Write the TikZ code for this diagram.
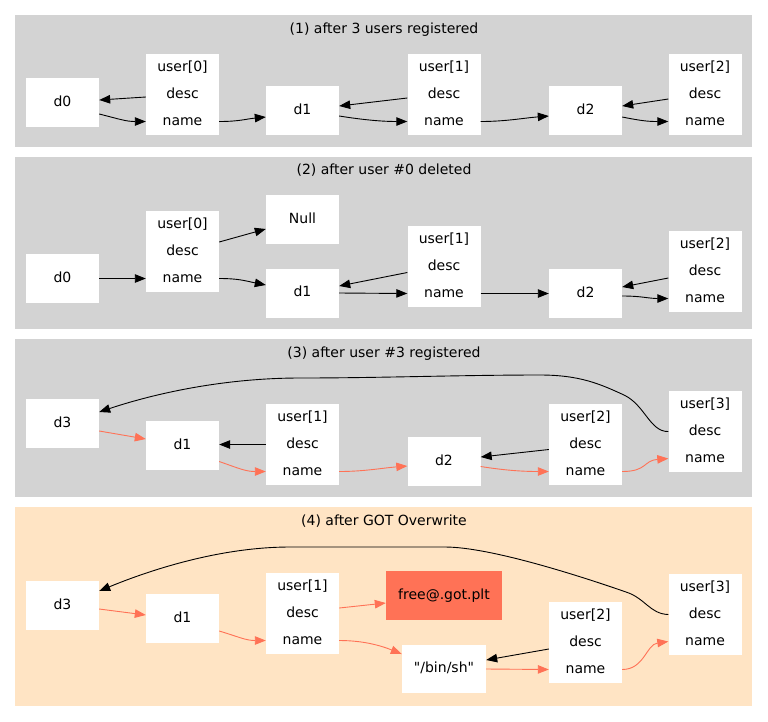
\documentclass[tikz,border=0pt]{standalone}
\usepackage{fontspec}
\setmainfont{DejaVu Sans}[Ligatures=TeXOff]
\usetikzlibrary{arrows.meta}
\definecolor{panelgray}{HTML}{D3D3D3}
\definecolor{bisquec}{HTML}{FFE4C4}
\definecolor{coralc}{HTML}{FF7256}
\newcommand\myfs{\fontsize{14}{16}\selectfont}
\newcommand\myrec[4]{%
  \node[fld] (#1t) at (#2,#3+13.5) {#4};
  \node[fld] (#1d) at (#2,#3+40.5) {desc};
  \node[fld] (#1n) at (#2,#3+67.5) {name};}
\begin{document}
\begin{tikzpicture}[x=1pt,y=-1pt,
  box/.style={fill=white, minimum width=73pt, minimum height=49pt, inner sep=0pt, font=\myfs, text height=10.5pt, text depth=3pt},
  fld/.style={fill=white, minimum width=73pt, minimum height=27pt, inner sep=0pt, font=\myfs, text height=10.5pt, text depth=3pt},
  ttl/.style={inner sep=0pt, font=\myfs, text height=10.5pt, text depth=3pt},
  e/.style={line width=0.9pt, -{Triangle[length=11pt,width=8.5pt]}},
  ce/.style={e, coralc}]
\fill[white] (0,0) rectangle (768,721);
\useasboundingbox (0,0) rectangle (768,721);
% panels
\fill[panelgray] (15,15) rectangle (752,147);
\fill[panelgray] (15,157) rectangle (752,329);
\fill[panelgray] (15,339) rectangle (752,497);
\fill[bisquec] (15,507) rectangle (752,706);
\node[ttl] (t1) at (384,30) {(1) after 3 users registered};
\node[ttl] (t2) at (384,171) {(2) after user \#0 deleted};
\node[ttl] (t3) at (384,354) {(3) after user \#3 registered};
\node[ttl] (t4) at (384,522) {(4) after GOT Overwrite};
% ---- panel 1
\node[box] (p1d0) at (62.5,102.5) {d0};
\node[box] (p1d1) at (302.5,110.5) {d1};
\node[box] (p1d2) at (585.5,110.5) {d2};
\myrec{p1u0}{182.5}{54}{user[0]}
\myrec{p1u1}{444}{54}{user[1]}
\myrec{p1u2}{705}{54}{user[2]}
\draw[e] ([yshift=-2.5pt]p1u0d.west) -- ([yshift=2.5pt]p1d0.east);
\draw[e] ([yshift=-11.5pt]p1d0.east) .. controls +(20,5) and +(-20,0) .. (p1u0n.west);
\draw[e] (p1u0n.east) .. controls +(20,0) and +(-20,2) .. ([yshift=-6.5pt]p1d1.west);
\draw[e] ([yshift=-3.5pt]p1u1d.west) -- ([yshift=4.5pt]p1d1.east);
\draw[e] ([yshift=-5.5pt]p1d1.east) .. controls +(25,4) and +(-25,0) .. (p1u1n.west);
\draw[e] (p1u1n.east) .. controls +(25,0) and +(-25,2) .. ([yshift=-5.5pt]p1d2.west);
\draw[e] ([yshift=-4.5pt]p1u2d.west) -- ([yshift=4.5pt]p1d2.east);
\draw[e] ([yshift=-6.5pt]p1d2.east) .. controls +(20,4) and +(-20,0) .. (p1u2n.west);
% ---- panel 2
\node[box] (p2d0) at (62.5,278.5) {d0};
\node[box] (p2null) at (302.5,219.5) {Null};
\node[box] (p2d1) at (302.5,293) {d1};
\node[box] (p2d2) at (585.5,293.5) {d2};
\myrec{p2u0}{182.5}{211}{user[0]}
\myrec{p2u1}{444}{226}{user[1]}
\myrec{p2u2}{705}{231}{user[2]}
\draw[e] (p2d0.east) -- (p2u0n.west);
\draw[e] ([yshift=9.5pt]p2u0d.east) -- ([yshift=-9.5pt]p2null.west);
\draw[e] (p2u0n.east) .. controls +(20,0) and +(-20,-4) .. ([yshift=8pt]p2d1.west);
\draw[e] ([yshift=-6pt]p2u1d.west) -- ([yshift=7pt]p2d1.east);
\draw[e] (p2d1.east) -- (p2u1n.west);
\draw[e] (p2u1n.east) -- (p2d2.west);
\draw[e] ([yshift=-6.5pt]p2u2d.west) -- ([yshift=6.5pt]p2d2.east);
\draw[e] ([yshift=-2.5pt]p2d2.east) .. controls +(20,0) and +(-20,0) .. (p2u2n.west);
% ---- panel 3
\node[box] (p3d3) at (62.5,423.5) {d3};
\node[box] (p3d1) at (182.5,445.5) {d1};
\node[box] (p3d2) at (444,461.5) {d2};
\myrec{p3u1}{302.5}{404}{user[1]}
\myrec{p3u2}{585.5}{404}{user[2]}
\myrec{p3u3}{705}{391}{user[3]}
\draw[e] (p3u3d.west) .. controls (650,432) and (645,405) .. (624,395)
  .. controls (600,384) and (580,375) .. (540,375)
  .. controls (460,375) and (380,378) .. (300,378)
  .. controls (220,378) and (150,395) .. ([yshift=11.5pt]p3d3.east);
\draw[ce] ([yshift=-7.5pt]p3d3.east) -- ([yshift=6.5pt]p3d1.west);
\draw[ce] ([yshift=-16pt]p3d1.east) .. controls +(20,7) and +(-20,0) .. (p3u1n.west);
\draw[e] (p3u1d.west) -- (p3d1.east |- p3u1d.west);
\draw[ce] (p3u1n.east) .. controls +(25,0) and +(-25,2) .. ([yshift=-4.5pt]p3d2.west);
\draw[e] ([yshift=-5pt]p3u2d.west) -- ([yshift=4.5pt]p3d2.east);
\draw[ce] ([yshift=-5pt]p3d2.east) .. controls +(25,4) and +(-25,0) .. (p3u2n.west);
\draw[ce] (p3u2n.east) .. controls +(25,0) and +(-25,2) .. (p3u3n.west);
% ---- panel 4
\node[box] (p4d3) at (62.5,605.5) {d3};
\node[box] (p4d1) at (182.5,618.5) {d1};
\node[box, fill=coralc, minimum width=116pt] (p4free) at (444,595.5) {free@.got.plt};
\node[box, minimum width=84pt, minimum height=48pt] (p4sh) at (444,669) {"/bin/sh"};
\myrec{p4u1}{302.5}{573}{user[1]}
\myrec{p4u2}{585.5}{602}{user[2]}
\myrec{p4u3}{705}{574}{user[3]}
\draw[e] (p4u3d.west) .. controls (650,614) and (645,598) .. (626,592)
  .. controls (580,576) and (490,547) .. (445,547)
  .. controls (380,547) and (330,547) .. (290,547)
  .. controls (220,547) and (150,570) .. ([yshift=14.5pt]p4d3.east);
\draw[ce] ([yshift=-3.5pt]p4d3.east) -- ([yshift=3.5pt]p4d1.west);
\draw[ce] ([yshift=-12.5pt]p4d1.east) .. controls +(20,6) and +(-20,0) .. (p4u1n.west);
\draw[ce] ([yshift=5.5pt]p4u1d.east) -- ([yshift=-7.5pt]p4free.west);
\draw[ce] (p4u1n.east) .. controls +(25,0) and +(-20,-8) .. ([yshift=15pt]p4sh.west);
\draw[e] ([yshift=-6.5pt]p4u2d.west) -- ([yshift=9pt]p4sh.east);
\draw[ce] (p4sh.east) -- (p4u2n.west);
\draw[ce] (p4u2n.east) .. controls +(22,0) and +(-22,3) .. (p4u3n.west);
\end{tikzpicture}
\end{document}
